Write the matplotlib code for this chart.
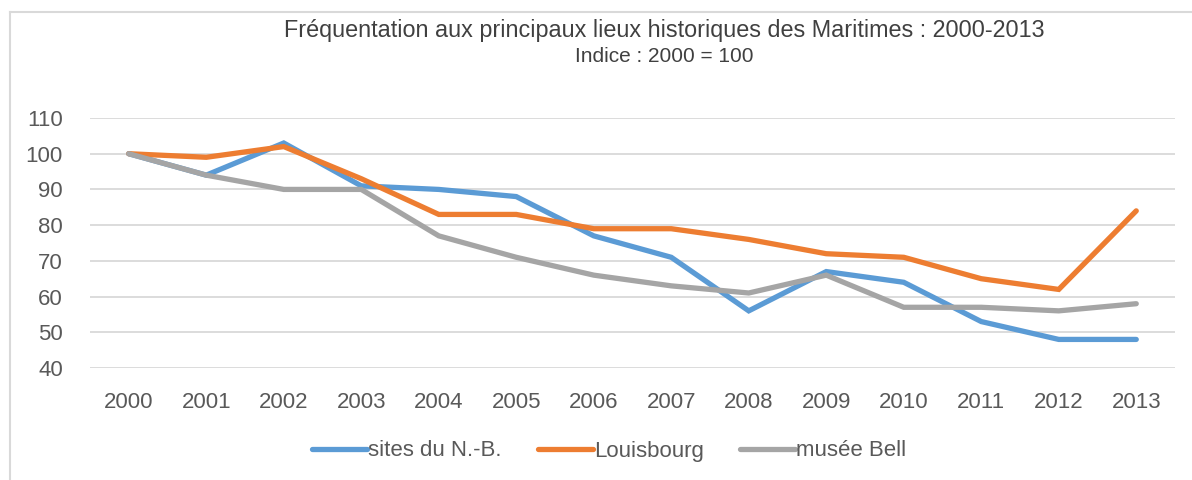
import matplotlib

matplotlib.use("Agg")
import matplotlib.pyplot as plt
from matplotlib.lines import Line2D

years = [2000, 2001, 2002, 2003, 2004, 2005, 2006, 2007, 2008, 2009, 2010, 2011, 2012, 2013]
nb_sites = [100, 94, 103, 91, 90, 88, 77, 71, 56, 67, 64, 53, 48, 48]
louisbourg = [100, 99, 102, 93, 83, 83, 79, 79, 76, 72, 71, 65, 62, 84]
musee_bell = [100, 94, 90, 90, 77, 71, 66, 63, 61, 66, 57, 57, 56, 58]
y_ticks = [40, 50, 60, 70, 80, 90, 100, 110]

series = [
    ("sites du N.-B.", nb_sites, "#5B9BD5"),
    ("Louisbourg", louisbourg, "#ED7D31"),
    ("musée Bell", musee_bell, "#A5A5A5"),
]

plt.rcParams["font.family"] = ["Liberation Sans", "DejaVu Sans"]
TXT = "#595959"

fig = plt.figure(figsize=(11.92, 4.8), dpi=100)
ax = fig.add_axes([90 / 1192, 1 - 368 / 480, (1175 - 90) / 1192, 250 / 480])

x = list(range(len(years)))
for label, vals, col in series:
    ax.plot(x, vals, color=col, lw=3.8, label=label, solid_capstyle="round",
            solid_joinstyle="miter")

ax.set_xlim(-0.5, len(years) - 0.5)
ax.set_ylim(40, 110)
ax.set_yticks(y_ticks)
ax.set_xticks(x)
ax.set_xticklabels([str(y) for y in years])
ax.grid(axis="y", color="#D9D9D9", lw=1.3)
ax.set_axisbelow(True)
for s in ax.spines.values():
    s.set_visible(False)
ax.tick_params(axis="both", length=0, labelsize=16, colors=TXT)
ax.tick_params(axis="y", pad=19.5)
ax.tick_params(axis="x", pad=17.5)

fig.text(0.557, 1 - 31 / 480, "Fréquentation aux principaux lieux historiques des Maritimes : 2000-2013",
         ha="center", va="center", fontsize=16.8, color="#404040")
fig.text(0.557, 1 - 57 / 480, "Indice : 2000 = 100", ha="center", va="center",
         fontsize=15, color="#404040")

leg = fig.legend(loc="center", bbox_to_anchor=(0.511, 1 - 451 / 480), ncol=3,
                 frameon=False, fontsize=16, handlelength=2.5, handletextpad=0.05,
                 columnspacing=1.6)
for t in leg.get_texts():
    t.set_color(TXT)

# light outer frame (top and left edges visible)
fig.add_artist(Line2D([9.5 / 1192, 1], [1 - 11.5 / 480] * 2, color="#D9D9D9", lw=1.5))
fig.add_artist(Line2D([9.5 / 1192] * 2, [0, 1 - 11.5 / 480], color="#D9D9D9", lw=1.5))

fig.savefig("out.png", dpi=100)
